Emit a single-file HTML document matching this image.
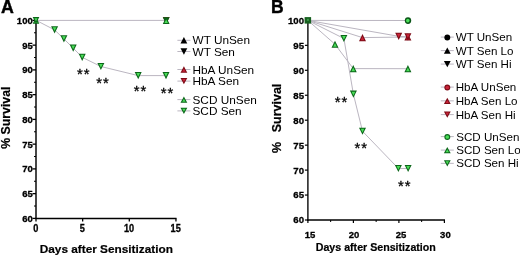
<!DOCTYPE html>
<html lang="en"><head><meta charset="utf-8"><title>Survival after sensitization</title>
<style>
html,body{margin:0;padding:0;background:#fff;}
body{width:520px;height:256px;overflow:hidden;}
svg{display:block;will-change:transform;font-family:"Liberation Sans",sans-serif;fill:#000;}
</style></head><body>
<svg width="520" height="256" viewBox="0 0 520 256">
<rect width="520" height="256" fill="#fff"/>
<text x="0.9" y="12.5" font-size="17.8" font-weight="bold" text-anchor="start" stroke="#000" stroke-width="0.4">A</text>
<line x1="36.0" y1="19.599999999999998" x2="36.0" y2="219.1" stroke="#000" stroke-width="1.45"/>
<line x1="35.2" y1="218.4" x2="176.54999999999998" y2="218.4" stroke="#000" stroke-width="1.45"/>
<line x1="32.5" y1="218.4" x2="36.0" y2="218.4" stroke="#000" stroke-width="1.3"/>
<text transform="translate(32.70,221.85) scale(0.96,1)" font-size="9.9" font-weight="bold" text-anchor="end" stroke="#000" stroke-width="0.3">60</text>
<line x1="32.5" y1="193.65" x2="36.0" y2="193.65" stroke="#000" stroke-width="1.3"/>
<text transform="translate(32.70,197.10) scale(0.96,1)" font-size="9.9" font-weight="bold" text-anchor="end" stroke="#000" stroke-width="0.3">65</text>
<line x1="32.5" y1="168.9" x2="36.0" y2="168.9" stroke="#000" stroke-width="1.3"/>
<text transform="translate(32.70,172.35) scale(0.96,1)" font-size="9.9" font-weight="bold" text-anchor="end" stroke="#000" stroke-width="0.3">70</text>
<line x1="32.5" y1="144.15" x2="36.0" y2="144.15" stroke="#000" stroke-width="1.3"/>
<text transform="translate(32.70,147.60) scale(0.96,1)" font-size="9.9" font-weight="bold" text-anchor="end" stroke="#000" stroke-width="0.3">75</text>
<line x1="32.5" y1="119.4" x2="36.0" y2="119.4" stroke="#000" stroke-width="1.3"/>
<text transform="translate(32.70,122.85) scale(0.96,1)" font-size="9.9" font-weight="bold" text-anchor="end" stroke="#000" stroke-width="0.3">80</text>
<line x1="32.5" y1="94.65" x2="36.0" y2="94.65" stroke="#000" stroke-width="1.3"/>
<text transform="translate(32.70,98.10) scale(0.96,1)" font-size="9.9" font-weight="bold" text-anchor="end" stroke="#000" stroke-width="0.3">85</text>
<line x1="32.5" y1="69.9" x2="36.0" y2="69.9" stroke="#000" stroke-width="1.3"/>
<text transform="translate(32.70,73.35) scale(0.96,1)" font-size="9.9" font-weight="bold" text-anchor="end" stroke="#000" stroke-width="0.3">90</text>
<line x1="32.5" y1="45.15" x2="36.0" y2="45.15" stroke="#000" stroke-width="1.3"/>
<text transform="translate(32.70,48.60) scale(0.96,1)" font-size="9.9" font-weight="bold" text-anchor="end" stroke="#000" stroke-width="0.3">95</text>
<line x1="32.5" y1="20.4" x2="36.0" y2="20.4" stroke="#000" stroke-width="1.3"/>
<text transform="translate(32.70,23.85) scale(0.96,1)" font-size="9.9" font-weight="bold" text-anchor="end" stroke="#000" stroke-width="0.3">100</text>
<line x1="34.0" y1="206.025" x2="36.0" y2="206.025" stroke="#000" stroke-width="1"/>
<line x1="34.0" y1="181.275" x2="36.0" y2="181.275" stroke="#000" stroke-width="1"/>
<line x1="34.0" y1="156.525" x2="36.0" y2="156.525" stroke="#000" stroke-width="1"/>
<line x1="34.0" y1="131.775" x2="36.0" y2="131.775" stroke="#000" stroke-width="1"/>
<line x1="34.0" y1="107.025" x2="36.0" y2="107.025" stroke="#000" stroke-width="1"/>
<line x1="34.0" y1="82.275" x2="36.0" y2="82.275" stroke="#000" stroke-width="1"/>
<line x1="34.0" y1="57.525" x2="36.0" y2="57.525" stroke="#000" stroke-width="1"/>
<line x1="34.0" y1="32.775" x2="36.0" y2="32.775" stroke="#000" stroke-width="1"/>
<line x1="36.0" y1="218.4" x2="36.0" y2="221.4" stroke="#000" stroke-width="1.3"/>
<text transform="translate(35.70,232.00) scale(0.92,1)" font-size="10.0" font-weight="bold" text-anchor="middle" stroke="#000" stroke-width="0.3">0</text>
<line x1="82.65" y1="218.4" x2="82.65" y2="221.4" stroke="#000" stroke-width="1.3"/>
<text transform="translate(82.35,232.00) scale(0.92,1)" font-size="10.0" font-weight="bold" text-anchor="middle" stroke="#000" stroke-width="0.3">5</text>
<line x1="129.3" y1="218.4" x2="129.3" y2="221.4" stroke="#000" stroke-width="1.3"/>
<text transform="translate(129.00,232.00) scale(0.92,1)" font-size="10.0" font-weight="bold" text-anchor="middle" stroke="#000" stroke-width="0.3">10</text>
<line x1="175.95" y1="218.4" x2="175.95" y2="221.4" stroke="#000" stroke-width="1.3"/>
<text transform="translate(175.65,232.00) scale(0.92,1)" font-size="10.0" font-weight="bold" text-anchor="middle" stroke="#000" stroke-width="0.3">15</text>
<text x="106.3" y="253" font-size="11.8" font-weight="bold" text-anchor="middle" stroke="#000" stroke-width="0.2">Days after Sensitization</text>
<text transform="translate(9.6,117.7) rotate(-90)" font-size="12.3" font-weight="bold" text-anchor="middle" stroke="#000" stroke-width="0.2">% Survival</text>
<polyline points="36.00,20.40 166.20,20.40" fill="none" stroke="#bbb6c1" stroke-width="1"/>
<polyline points="36.25,20.40 54.60,29.90 63.90,38.90 73.20,48.10 82.20,57.30 100.90,66.50 138.20,75.60 166.00,75.60" fill="none" stroke="#bbb6c1" stroke-width="1"/>
<polygon points="162.80,16.90 169.60,16.90 166.20,24.10" fill="#7d0b16"/><polygon points="164.46,17.95 167.94,17.95 166.20,21.64" fill="#c92439"/>
<polygon points="162.80,17.30 169.60,17.30 166.20,24.10" fill="#0b6619"/>
<polygon points="162.80,24.10 169.60,24.10 166.20,17.10" fill="#0b6619"/><polygon points="164.48,23.05 167.92,23.05 166.20,19.50" fill="#4ade58"/>
<polygon points="32.70,23.70 39.30,23.70 36.00,17.10" fill="#0b6619"/><polygon points="34.40,22.65 37.60,22.65 36.00,19.45" fill="#4ade58"/>
<polygon points="32.70,17.10 39.30,17.10 36.00,23.70" fill="#0b6619"/><polygon points="34.40,18.15 37.60,18.15 36.00,21.35" fill="#4ade58"/>
<polygon points="51.10,26.30 58.10,26.30 54.60,33.50" fill="#0b6619"/><polygon points="52.78,27.35 56.42,27.35 54.60,31.10" fill="#4ade58"/>
<polygon points="60.40,35.30 67.40,35.30 63.90,42.50" fill="#0b6619"/><polygon points="62.08,36.35 65.72,36.35 63.90,40.10" fill="#4ade58"/>
<polygon points="69.70,44.50 76.70,44.50 73.20,51.70" fill="#0b6619"/><polygon points="71.38,45.55 75.02,45.55 73.20,49.30" fill="#4ade58"/>
<polygon points="78.70,53.70 85.70,53.70 82.20,60.90" fill="#0b6619"/><polygon points="80.38,54.75 84.02,54.75 82.20,58.50" fill="#4ade58"/>
<polygon points="97.40,62.90 104.40,62.90 100.90,70.10" fill="#0b6619"/><polygon points="99.08,63.95 102.72,63.95 100.90,67.70" fill="#4ade58"/>
<polygon points="134.70,72.00 141.70,72.00 138.20,79.20" fill="#0b6619"/><polygon points="136.38,73.05 140.02,73.05 138.20,76.80" fill="#4ade58"/>
<polygon points="162.50,72.00 169.50,72.00 166.00,79.20" fill="#0b6619"/><polygon points="164.18,73.05 167.82,73.05 166.00,76.80" fill="#4ade58"/>
<text x="83.8" y="79.1" font-size="14.8" text-anchor="middle" letter-spacing="1.0" stroke="#000" stroke-width="0.3">**</text>
<text x="103.1" y="87.9" font-size="14.8" text-anchor="middle" letter-spacing="1.0" stroke="#000" stroke-width="0.3">**</text>
<text x="140.5" y="96.3" font-size="14.8" text-anchor="middle" letter-spacing="1.0" stroke="#000" stroke-width="0.3">**</text>
<text x="167.6" y="97.9" font-size="14.8" text-anchor="middle" letter-spacing="1.0" stroke="#000" stroke-width="0.3">**</text>
<polyline points="177.40,40.30 190.40,40.30" fill="none" stroke="#bbb6c1" stroke-width="1"/>
<polygon points="180.50,43.50 187.30,43.50 183.90,37.10" fill="#000"/>
<text x="192.5" y="44.3" font-size="11.8" text-anchor="start">WT UnSen</text>
<polyline points="177.40,51.50 190.40,51.50" fill="none" stroke="#bbb6c1" stroke-width="1"/>
<polygon points="180.50,48.30 187.30,48.30 183.90,54.70" fill="#000"/>
<text x="192.5" y="55.5" font-size="11.8" text-anchor="start">WT Sen</text>
<polyline points="177.40,69.50 190.40,69.50" fill="none" stroke="#bbb6c1" stroke-width="1"/>
<polygon points="180.50,72.70 187.30,72.70 183.90,66.30" fill="#7d0b16"/><polygon points="182.25,71.65 185.55,71.65 183.90,68.54" fill="#c92439"/>
<text x="192.5" y="73.5" font-size="11.8" text-anchor="start">HbA UnSen</text>
<polyline points="177.40,81.10 190.40,81.10" fill="none" stroke="#bbb6c1" stroke-width="1"/>
<polygon points="180.50,77.90 187.30,77.90 183.90,84.30" fill="#7d0b16"/><polygon points="182.25,78.95 185.55,78.95 183.90,82.06" fill="#c92439"/>
<text x="192.5" y="85.1" font-size="11.8" text-anchor="start">HbA Sen</text>
<polyline points="177.40,99.60 190.40,99.60" fill="none" stroke="#bbb6c1" stroke-width="1"/>
<polygon points="180.50,102.80 187.30,102.80 183.90,96.40" fill="#0b6619"/><polygon points="182.25,101.75 185.55,101.75 183.90,98.64" fill="#4ade58"/>
<text x="192.5" y="103.6" font-size="11.8" text-anchor="start">SCD UnSen</text>
<polyline points="177.40,110.90 190.40,110.90" fill="none" stroke="#bbb6c1" stroke-width="1"/>
<polygon points="180.50,107.70 187.30,107.70 183.90,114.10" fill="#0b6619"/><polygon points="182.25,108.75 185.55,108.75 183.90,111.86" fill="#4ade58"/>
<text x="192.5" y="114.9" font-size="11.8" text-anchor="start">SCD Sen</text>
<text x="270.9" y="12.5" font-size="17.5" font-weight="bold" text-anchor="start" stroke="#000" stroke-width="0.4">B</text>
<line x1="307.9" y1="19.599999999999998" x2="307.9" y2="220.70000000000002" stroke="#000" stroke-width="1.35"/>
<line x1="307.2" y1="220.00000000000003" x2="445.0" y2="220.00000000000003" stroke="#000" stroke-width="1.35"/>
<line x1="304.9" y1="220.00000000000003" x2="307.9" y2="220.00000000000003" stroke="#000" stroke-width="1.2"/>
<text transform="translate(304.00,223.40) scale(0.995,1)" font-size="9.7" font-weight="bold" text-anchor="end" stroke="#000" stroke-width="0.3">60</text>
<line x1="304.9" y1="195.05" x2="307.9" y2="195.05" stroke="#000" stroke-width="1.2"/>
<text transform="translate(304.00,198.45) scale(0.995,1)" font-size="9.7" font-weight="bold" text-anchor="end" stroke="#000" stroke-width="0.3">65</text>
<line x1="304.9" y1="170.10000000000002" x2="307.9" y2="170.10000000000002" stroke="#000" stroke-width="1.2"/>
<text transform="translate(304.00,173.50) scale(0.995,1)" font-size="9.7" font-weight="bold" text-anchor="end" stroke="#000" stroke-width="0.3">70</text>
<line x1="304.9" y1="145.15" x2="307.9" y2="145.15" stroke="#000" stroke-width="1.2"/>
<text transform="translate(304.00,148.55) scale(0.995,1)" font-size="9.7" font-weight="bold" text-anchor="end" stroke="#000" stroke-width="0.3">75</text>
<line x1="304.9" y1="120.20000000000002" x2="307.9" y2="120.20000000000002" stroke="#000" stroke-width="1.2"/>
<text transform="translate(304.00,123.60) scale(0.995,1)" font-size="9.7" font-weight="bold" text-anchor="end" stroke="#000" stroke-width="0.3">80</text>
<line x1="304.9" y1="95.25" x2="307.9" y2="95.25" stroke="#000" stroke-width="1.2"/>
<text transform="translate(304.00,98.65) scale(0.995,1)" font-size="9.7" font-weight="bold" text-anchor="end" stroke="#000" stroke-width="0.3">85</text>
<line x1="304.9" y1="70.30000000000001" x2="307.9" y2="70.30000000000001" stroke="#000" stroke-width="1.2"/>
<text transform="translate(304.00,73.70) scale(0.995,1)" font-size="9.7" font-weight="bold" text-anchor="end" stroke="#000" stroke-width="0.3">90</text>
<line x1="304.9" y1="45.35" x2="307.9" y2="45.35" stroke="#000" stroke-width="1.2"/>
<text transform="translate(304.00,48.75) scale(0.995,1)" font-size="9.7" font-weight="bold" text-anchor="end" stroke="#000" stroke-width="0.3">95</text>
<line x1="304.9" y1="20.4" x2="307.9" y2="20.4" stroke="#000" stroke-width="1.2"/>
<text transform="translate(304.00,23.80) scale(0.995,1)" font-size="9.7" font-weight="bold" text-anchor="end" stroke="#000" stroke-width="0.3">100</text>
<line x1="307.9" y1="220.00000000000003" x2="307.9" y2="223.00000000000003" stroke="#000" stroke-width="1.2"/>
<text transform="translate(310.10,237.90) scale(0.995,1)" font-size="9.55" font-weight="bold" text-anchor="middle" stroke="#000" stroke-width="0.3">15</text>
<line x1="353.4" y1="220.00000000000003" x2="353.4" y2="223.00000000000003" stroke="#000" stroke-width="1.2"/>
<text transform="translate(354.00,237.90) scale(0.995,1)" font-size="9.55" font-weight="bold" text-anchor="middle" stroke="#000" stroke-width="0.3">20</text>
<line x1="398.9" y1="220.00000000000003" x2="398.9" y2="223.00000000000003" stroke="#000" stroke-width="1.2"/>
<text transform="translate(401.10,237.90) scale(0.995,1)" font-size="9.55" font-weight="bold" text-anchor="middle" stroke="#000" stroke-width="0.3">25</text>
<line x1="444.4" y1="220.00000000000003" x2="444.4" y2="223.00000000000003" stroke="#000" stroke-width="1.2"/>
<text transform="translate(445.40,237.90) scale(0.995,1)" font-size="9.55" font-weight="bold" text-anchor="middle" stroke="#000" stroke-width="0.3">30</text>
<line x1="330.65" y1="220.00000000000003" x2="330.65" y2="222.00000000000003" stroke="#000" stroke-width="1"/>
<line x1="376.15" y1="220.00000000000003" x2="376.15" y2="222.00000000000003" stroke="#000" stroke-width="1"/>
<line x1="421.65" y1="220.00000000000003" x2="421.65" y2="222.00000000000003" stroke="#000" stroke-width="1"/>
<text x="375.8" y="251" font-size="10.65" font-weight="bold" text-anchor="middle" stroke="#000" stroke-width="0.2">Days after Sensitization</text>
<text transform="translate(280.7,118.4) rotate(-90)" font-size="12.5" font-weight="bold" text-anchor="middle" word-spacing="6.2" stroke="#000" stroke-width="0.2">% Survival</text>
<polyline points="307.90,20.40 408.00,20.50" fill="none" stroke="#bbb6c1" stroke-width="1"/>
<polyline points="307.90,20.40 362.50,37.60 407.90,37.00" fill="none" stroke="#bbb6c1" stroke-width="1"/>
<polyline points="307.90,20.40 398.70,36.30 407.90,36.80" fill="none" stroke="#bbb6c1" stroke-width="1"/>
<polyline points="307.90,20.40 335.00,44.25 353.25,68.60 407.90,68.70" fill="none" stroke="#bbb6c1" stroke-width="1"/>
<polyline points="307.90,20.40 343.90,38.50 353.40,94.20 362.50,131.25 398.40,168.50 408.10,168.50" fill="none" stroke="#bbb6c1" stroke-width="1"/>
<ellipse cx="408.0" cy="20.6" rx="3.2" ry="3.45" fill="#0a5517"/><ellipse cx="407.8" cy="20.6" rx="1.75" ry="1.95" fill="#4ade58"/>
<rect x="304.59999999999997" y="17.099999999999998" width="6.5" height="6.5" fill="#16601f"/><rect x="306.9" y="18.799999999999997" width="2.0" height="2.0" fill="#3c9a48"/>
<polygon points="359.00,41.20 366.00,41.20 362.50,34.00" fill="#7d0b16"/><polygon points="360.68,40.15 364.32,40.15 362.50,36.40" fill="#c92439"/>
<polygon points="404.40,40.60 411.40,40.60 407.90,33.40" fill="#7d0b16"/><polygon points="406.08,39.55 409.72,39.55 407.90,35.80" fill="#c92439"/>
<polygon points="395.20,32.70 402.20,32.70 398.70,39.90" fill="#7d0b16"/><polygon points="396.88,33.75 400.52,33.75 398.70,37.50" fill="#c92439"/>
<polygon points="404.40,33.20 411.40,33.20 407.90,40.40" fill="#7d0b16"/><polygon points="406.08,34.25 409.72,34.25 407.90,38.00" fill="#c92439"/>
<polygon points="331.50,47.85 338.50,47.85 335.00,40.65" fill="#0b6619"/><polygon points="333.18,46.80 336.82,46.80 335.00,43.05" fill="#4ade58"/>
<polygon points="349.75,72.20 356.75,72.20 353.25,65.00" fill="#0b6619"/><polygon points="351.43,71.15 355.07,71.15 353.25,67.40" fill="#4ade58"/>
<polygon points="404.40,72.30 411.40,72.30 407.90,65.10" fill="#0b6619"/><polygon points="406.08,71.25 409.72,71.25 407.90,67.50" fill="#4ade58"/>
<polygon points="340.40,34.90 347.40,34.90 343.90,42.10" fill="#0b6619"/><polygon points="342.08,35.95 345.72,35.95 343.90,39.70" fill="#4ade58"/>
<polygon points="349.90,90.60 356.90,90.60 353.40,97.80" fill="#0b6619"/><polygon points="351.58,91.65 355.22,91.65 353.40,95.40" fill="#4ade58"/>
<polygon points="359.00,127.65 366.00,127.65 362.50,134.85" fill="#0b6619"/><polygon points="360.68,128.70 364.32,128.70 362.50,132.45" fill="#4ade58"/>
<polygon points="394.90,164.90 401.90,164.90 398.40,172.10" fill="#0b6619"/><polygon points="396.58,165.95 400.22,165.95 398.40,169.70" fill="#4ade58"/>
<polygon points="404.60,164.90 411.60,164.90 408.10,172.10" fill="#0b6619"/><polygon points="406.28,165.95 409.92,165.95 408.10,169.70" fill="#4ade58"/>
<text x="341.5" y="107.3" font-size="14.8" text-anchor="middle" letter-spacing="1.0" stroke="#000" stroke-width="0.3">**</text>
<text x="361.3" y="153.0" font-size="14.8" text-anchor="middle" letter-spacing="1.0" stroke="#000" stroke-width="0.3">**</text>
<text x="404.7" y="191.4" font-size="14.8" text-anchor="middle" letter-spacing="1.0" stroke="#000" stroke-width="0.3">**</text>
<polyline points="440.80,37.10 453.80,37.10" fill="none" stroke="#bbb6c1" stroke-width="1"/>
<circle cx="447.30" cy="37.50" r="2.95" fill="#000"/>
<text x="455.7" y="41.1" font-size="11.6" text-anchor="start">WT UnSen</text>
<polyline points="440.80,50.60 453.80,50.60" fill="none" stroke="#bbb6c1" stroke-width="1"/>
<polygon points="443.90,53.80 450.70,53.80 447.30,47.40" fill="#000"/>
<text x="455.7" y="54.6" font-size="11.6" text-anchor="start">WT Sen Lo</text>
<polyline points="440.80,64.10 453.80,64.10" fill="none" stroke="#bbb6c1" stroke-width="1"/>
<polygon points="443.90,60.90 450.70,60.90 447.30,67.30" fill="#000"/>
<text x="455.7" y="68.1" font-size="11.6" text-anchor="start">WT Sen Hi</text>
<polyline points="440.80,87.10 453.80,87.10" fill="none" stroke="#bbb6c1" stroke-width="1"/>
<circle cx="447.30" cy="87.50" r="2.95" fill="#7d0b16"/><circle cx="447.30" cy="87.50" r="1.85" fill="#c92439"/>
<text x="455.7" y="91.1" font-size="11.6" text-anchor="start">HbA UnSen</text>
<polyline points="440.80,100.85 453.80,100.85" fill="none" stroke="#bbb6c1" stroke-width="1"/>
<polygon points="443.90,104.05 450.70,104.05 447.30,97.65" fill="#7d0b16"/><polygon points="445.65,103.00 448.95,103.00 447.30,99.89" fill="#c92439"/>
<text x="455.7" y="104.85" font-size="11.6" text-anchor="start">HbA Sen Lo</text>
<polyline points="440.80,114.60 453.80,114.60" fill="none" stroke="#bbb6c1" stroke-width="1"/>
<polygon points="443.90,111.40 450.70,111.40 447.30,117.80" fill="#7d0b16"/><polygon points="445.65,112.45 448.95,112.45 447.30,115.56" fill="#c92439"/>
<text x="455.7" y="118.6" font-size="11.6" text-anchor="start">HbA Sen Hi</text>
<polyline points="440.80,136.60 453.80,136.60" fill="none" stroke="#bbb6c1" stroke-width="1"/>
<circle cx="447.30" cy="137.00" r="2.95" fill="#0b6619"/><circle cx="447.30" cy="137.00" r="1.85" fill="#4ade58"/>
<text x="456.2" y="140.6" font-size="11.6" text-anchor="start">SCD UnSen</text>
<polyline points="440.80,150.10 453.80,150.10" fill="none" stroke="#bbb6c1" stroke-width="1"/>
<polygon points="443.90,153.30 450.70,153.30 447.30,146.90" fill="#0b6619"/><polygon points="445.65,152.25 448.95,152.25 447.30,149.14" fill="#4ade58"/>
<text x="456.2" y="154.1" font-size="11.6" text-anchor="start">SCD Sen Lo</text>
<polyline points="440.80,163.35 453.80,163.35" fill="none" stroke="#bbb6c1" stroke-width="1"/>
<polygon points="443.90,160.15 450.70,160.15 447.30,166.55" fill="#0b6619"/><polygon points="445.65,161.20 448.95,161.20 447.30,164.31" fill="#4ade58"/>
<text x="456.2" y="167.35" font-size="11.6" text-anchor="start">SCD Sen Hi</text>
</svg>
</body></html>
